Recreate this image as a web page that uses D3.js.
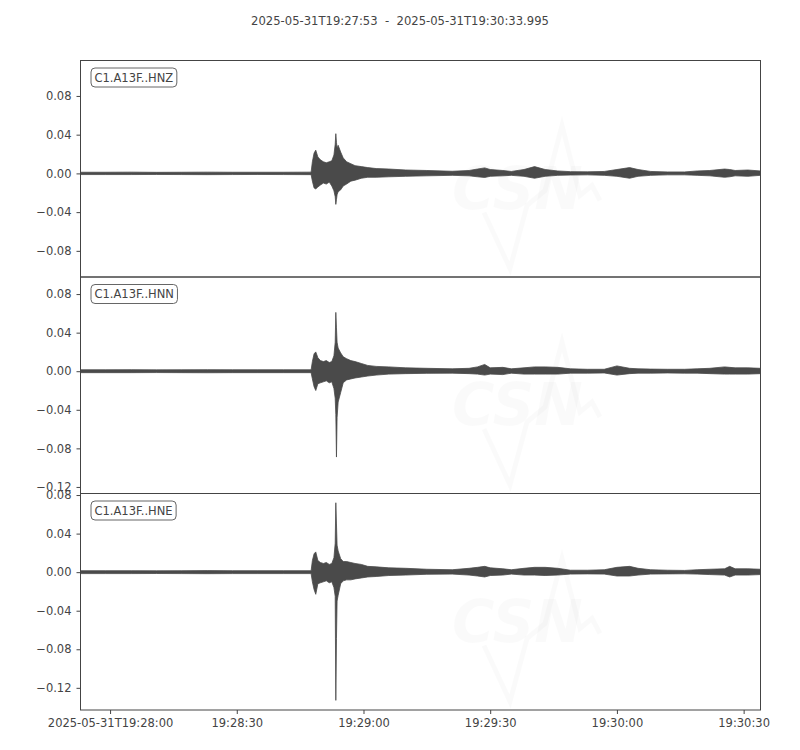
<!DOCTYPE html>
<html lang="en">
<head>
<meta charset="UTF-8">
<script src="https://cdn.jsdelivr.net/npm/d3@7"></script>
<title>C1.A13F</title>
<style>
  body { margin: 0; background: #fff; }
  svg text { font-family: "DejaVu Sans", sans-serif; }
</style>
</head>
<body>
<script>
// start of the record, all offsets are seconds after this
const startTime = new Date(Date.UTC(2025, 4, 31, 19, 27, 53));
const endOffset = 160.995;
const titleText = "2025-05-31T19:27:53  -  2025-05-31T19:30:33.995";

const channels = ["C1.A13F..HNZ", "C1.A13F..HNN", "C1.A13F..HNE"];

// envelope of each trace (max / min inside each window)
const offsets = [0, 6, 12, 18, 24, 30, 36, 42, 48, 54.6,
  54.9, 55.3, 55.7, 56.2, 56.8, 57.5, 58.2, 58.9, 59.5, 60.0,
  60.3, 60.45, 60.6, 60.75, 61.0, 61.6, 62.2, 63.0, 64.0, 65.0,
  66.5, 68, 70, 73, 77, 82, 88,
  92, 94, 95.7, 97, 100, 102, 105, 107.5, 110, 113,
  116, 120, 124, 127, 130, 132, 135, 139, 143, 146,
  149, 152.5, 153.7, 155, 158, 160.995];

const hnzMax = [0.0012, 0.0012, 0.0013, 0.0011, 0.0012, 0.0013, 0.0012, 0.0012, 0.0012, 0.0013,
  0.012, 0.021, 0.024, 0.017, 0.014, 0.012, 0.011, 0.012, 0.013, 0.019,
  0.030, 0.041, 0.032, 0.026, 0.029, 0.022, 0.016, 0.012, 0.010, 0.008,
  0.007, 0.006, 0.005, 0.0045, 0.0035, 0.003, 0.0022,
  0.003, 0.0045, 0.0057, 0.004, 0.003, 0.002, 0.004, 0.007, 0.004, 0.0025,
  0.0018, 0.0016, 0.002, 0.004, 0.006, 0.004, 0.002, 0.0015, 0.0015, 0.0025,
  0.003, 0.0045, 0.004, 0.003, 0.0035, 0.0025];
const hnzMin = [-0.0012, -0.0012, -0.0012, -0.0011, -0.0012, -0.0013, -0.0012, -0.0011, -0.0012, -0.0013,
  -0.008, -0.015, -0.016, -0.014, -0.012, -0.010, -0.011, -0.009, -0.013, -0.018,
  -0.024, -0.032, -0.027, -0.022, -0.019, -0.017, -0.013, -0.011, -0.008, -0.007,
  -0.005, -0.004, -0.004, -0.0035, -0.003, -0.0025, -0.002,
  -0.0025, -0.0035, -0.0042, -0.003, -0.0025, -0.002, -0.003, -0.005, -0.003, -0.002,
  -0.0017, -0.0015, -0.002, -0.003, -0.005, -0.003, -0.002, -0.0015, -0.0015, -0.002,
  -0.0025, -0.004, -0.0035, -0.0025, -0.003, -0.002];

const hnnMax = [0.0015, 0.0015, 0.0016, 0.0014, 0.0015, 0.0016, 0.0015, 0.0015, 0.0015, 0.0015,
  0.010, 0.018, 0.020, 0.014, 0.011, 0.010, 0.011, 0.009, 0.010, 0.016,
  0.030, 0.061, 0.045, 0.030, 0.024, 0.019, 0.015, 0.013, 0.011, 0.010,
  0.008, 0.006, 0.005, 0.0045, 0.0035, 0.003, 0.0025,
  0.003, 0.0045, 0.007, 0.0035, 0.004, 0.0025, 0.0035, 0.0045, 0.0045, 0.004,
  0.0025, 0.002, 0.002, 0.0055, 0.003, 0.0025, 0.0022, 0.002, 0.002, 0.0025,
  0.003, 0.0045, 0.004, 0.0035, 0.0035, 0.003];
const hnnMin = [-0.0015, -0.0015, -0.0015, -0.0014, -0.0015, -0.0016, -0.0015, -0.0015, -0.0015, -0.0015,
  -0.008, -0.016, -0.020, -0.013, -0.012, -0.011, -0.010, -0.012, -0.011, -0.018,
  -0.028, -0.045, -0.089, -0.048, -0.032, -0.022, -0.012, -0.009, -0.008, -0.007,
  -0.006, -0.005, -0.004, -0.003, -0.0025, -0.0022, -0.002,
  -0.0025, -0.003, -0.004, -0.003, -0.0035, -0.002, -0.003, -0.003, -0.003, -0.003,
  -0.002, -0.002, -0.0018, -0.004, -0.0025, -0.002, -0.002, -0.0018, -0.002, -0.002,
  -0.0025, -0.003, -0.003, -0.003, -0.003, -0.0025];

const hneMax = [0.0015, 0.0015, 0.0015, 0.0014, 0.0015, 0.0016, 0.0015, 0.0015, 0.0015, 0.0015,
  0.012, 0.019, 0.021, 0.012, 0.010, 0.009, 0.010, 0.008, 0.009, 0.015,
  0.030, 0.072, 0.050, 0.028, 0.022, 0.014, 0.011, 0.011, 0.010, 0.009,
  0.008, 0.006, 0.0055, 0.0045, 0.004, 0.003, 0.0025,
  0.004, 0.005, 0.006, 0.0045, 0.0035, 0.0025, 0.004, 0.005, 0.005, 0.004,
  0.002, 0.002, 0.0025, 0.005, 0.006, 0.004, 0.0025, 0.002, 0.0018, 0.0025,
  0.003, 0.0035, 0.006, 0.0035, 0.0035, 0.003];
const hneMin = [-0.0015, -0.0015, -0.0015, -0.0014, -0.0015, -0.0016, -0.0015, -0.0015, -0.0015, -0.0015,
  -0.010, -0.018, -0.023, -0.012, -0.011, -0.010, -0.009, -0.011, -0.010, -0.016,
  -0.025, -0.133, -0.069, -0.030, -0.024, -0.012, -0.009, -0.008, -0.008, -0.007,
  -0.006, -0.005, -0.0045, -0.0035, -0.003, -0.0022, -0.002,
  -0.003, -0.004, -0.005, -0.0035, -0.003, -0.002, -0.003, -0.003, -0.0035, -0.003,
  -0.002, -0.0018, -0.002, -0.004, -0.004, -0.003, -0.002, -0.0018, -0.0017, -0.002,
  -0.0025, -0.003, -0.005, -0.003, -0.003, -0.0025];

const traceMax = [hnzMax, hnnMax, hneMax];
const traceMin = [hnzMin, hnnMin, hneMin];

// y limits and ticks of each panel
const yDomains = [[-0.1070, 0.1166], [-0.1268, 0.0977], [-0.1430, 0.0816]];
const yTicks = [
  [0.08, 0.04, 0.00, -0.04, -0.08],
  [0.08, 0.04, 0.00, -0.04, -0.08, -0.12],
  [0.08, 0.04, 0.00, -0.04, -0.08, -0.12]
];

// x ticks, seconds after start
const xTickOffsets = [7, 37, 67, 97, 127, 157];
const xTickLabels = ["2025-05-31T19:28:00", "19:28:30", "19:29:00", "19:29:30", "19:30:00", "19:30:30"];

const W = 800, H = 750;
const plotL = 80.5, plotR = 760.5, plotT = 60.5, plotB = 710;
const panelH = (plotB - plotT) / channels.length;
const ink = "#444";
const traceColor = "#4a4a4a";

const svg = d3.select("body").append("svg")
  .attr("width", W).attr("height", H);

svg.append("text")
  .attr("x", 400).attr("y", 25)
  .attr("text-anchor", "middle")
  .attr("font-size", 11.6)
  .attr("fill", ink)
  .attr("xml:space", "preserve")
  .style("white-space", "pre")
  .text(titleText);

const x = d3.scaleTime()
  .domain([startTime, new Date(startTime.getTime() + endOffset * 1000)])
  .range([plotL, plotR]);
const at = s => new Date(startTime.getTime() + s * 1000);

const fmt = d3.format(".2f");

channels.forEach(function (ch, i) {
  const y0 = plotT + i * panelH;
  const y = d3.scaleLinear().domain(yDomains[i]).range([y0 + panelH, y0]);

  const g = svg.append("g");

  // faint CSN watermark
  const wm = g.append("g").attr("transform", "translate(0," + y0 + ")")
    .attr("fill", "#000").attr("fill-opacity", 0.018);
  wm.append("path")
    .attr("d", "M484,152 L510,208 L527,145 L545,130 L562,65 L580,135 L592,125 L600,140")
    .attr("fill", "none").attr("stroke", "#000").attr("stroke-opacity", 0.018)
    .attr("stroke-width", 5);
  wm.append("text").attr("x", 452).attr("y", 148)
    .attr("font-size", 58).attr("font-weight", "bold").attr("font-style", "italic")
    .text("CSN");
  wm.append("text").attr("x", 532).attr("y", 170)
    .attr("font-size", 18).attr("font-style", "italic")
    .attr("textLength", 215).attr("lengthAdjust", "spacingAndGlyphs")
    .text("CENTRO SISMOLÓGICO NACIONAL");
  wm.append("text").attr("x", 532).attr("y", 190)
    .attr("font-size", 18).attr("font-style", "italic")
    .attr("textLength", 145).attr("lengthAdjust", "spacingAndGlyphs")
    .text("UNIVERSIDAD DE CHILE");

  // trace envelope
  const clipId = "clip" + i;
  svg.append("clipPath").attr("id", clipId)
    .append("rect").attr("x", plotL).attr("y", y0)
    .attr("width", plotR - plotL).attr("height", panelH);

  const rows = offsets.map((t, k) => ({ t: t, hi: traceMax[i][k], lo: traceMin[i][k] }));
  const area = d3.area()
    .x(d => x(at(d.t)))
    .y0(d => y(d.lo))
    .y1(d => y(d.hi));
  g.append("path")
    .datum(rows)
    .attr("clip-path", "url(#" + clipId + ")")
    .attr("d", area)
    .attr("fill", traceColor)
    .attr("stroke", traceColor)
    .attr("stroke-width", 0.8)
    .attr("stroke-linejoin", "round");

  // frame
  g.append("rect")
    .attr("x", plotL).attr("y", y0)
    .attr("width", plotR - plotL).attr("height", panelH)
    .attr("fill", "none").attr("stroke", ink).attr("stroke-width", 1);

  // y axis
  const yAxis = g.append("g")
    .attr("transform", "translate(" + plotL + ",0)")
    .call(d3.axisLeft(y).tickValues(yTicks[i]).tickFormat(fmt).tickSize(4).tickPadding(5));
  yAxis.select(".domain").remove();
  yAxis.selectAll("line").attr("stroke", ink);
  yAxis.selectAll("text").attr("fill", ink).attr("font-size", 11.5)
    .attr("font-family", "DejaVu Sans");

  // channel label box
  const lab = g.append("g").attr("transform", "translate(" + (plotL + 10) + "," + (y0 + 7) + ")");
  const t = lab.append("text").attr("x", 4).attr("y", 14)
    .attr("font-size", 11.5).attr("fill", ink).text(ch);
  const bb = t.node().getBBox();
  lab.insert("rect", "text")
    .attr("x", 0.5).attr("y", 0.5)
    .attr("width", bb.width + 7).attr("height", 19)
    .attr("rx", 4).attr("ry", 4)
    .attr("fill", "#fff").attr("stroke", "#666").attr("stroke-width", 1);
});

// x axis on the bottom panel
const xAxis = svg.append("g")
  .attr("transform", "translate(0," + plotB + ")")
  .call(d3.axisBottom(x)
    .tickValues(xTickOffsets.map(at))
    .tickFormat((d, k) => xTickLabels[k])
    .tickSize(4).tickPadding(5));
xAxis.select(".domain").remove();
xAxis.selectAll("line").attr("stroke", ink);
xAxis.selectAll("text").attr("fill", ink).attr("font-size", 11.5)
  .attr("font-family", "DejaVu Sans");
</script>
</body>
</html>
